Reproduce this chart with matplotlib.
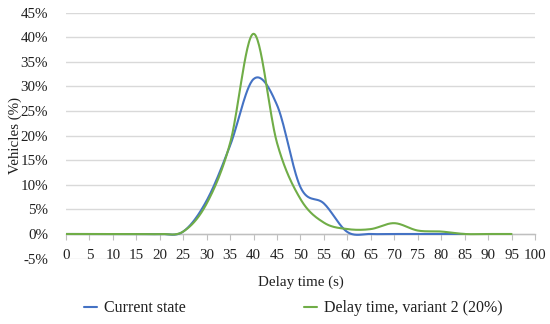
import numpy as np
import matplotlib
matplotlib.use("Agg")
import matplotlib.pyplot as plt
from matplotlib.ticker import FuncFormatter

# ---- data ----
x_current = [0, 5, 10, 15, 20, 25, 30, 35, 40, 45, 50, 55, 60, 65, 70, 75, 80, 85]
y_current = [0, 0, 0, 0, 0, 0.5, 6.8, 18.0, 31.5, 26.2, 9.5, 6.2, 0.4, 0, 0, 0, 0, 0]

x_variant = [0, 5, 10, 15, 20, 25, 30, 35, 40, 45, 50, 55, 60, 65, 70, 75, 80, 85, 90, 95]
y_variant = [0, 0, 0, 0, 0, 0.5, 6.2, 18.5, 40.7, 18.5, 7.1, 2.3, 1.0, 1.0, 2.2, 0.7, 0.5, 0, 0, 0]

series_names = ["Current state", "Delay time, variant 2 (20%)"]
colors = ["#4472C4", "#70AD47"]

x_ticks = list(range(0, 101, 5))
y_ticks = list(range(-5, 46, 5))


def smooth(xs, ys, n=30):
    """Catmull-Rom smoothing similar to Excel's smoothed lines."""
    xs = np.asarray(xs, float)
    ys = np.asarray(ys, float)
    px = np.concatenate([[xs[0]], xs, [xs[-1]]])
    py = np.concatenate([[ys[0]], ys, [ys[-1]]])
    ox, oy = [], []
    for i in range(1, len(px) - 2):
        p0 = np.array([px[i - 1], py[i - 1]])
        p1 = np.array([px[i], py[i]])
        p2 = np.array([px[i + 1], py[i + 1]])
        p3 = np.array([px[i + 2], py[i + 2]])
        c1 = p1 + (p2 - p0) / 6.0
        c2 = p2 - (p3 - p1) / 6.0
        t = np.linspace(0, 1, n, endpoint=(i == len(px) - 3))[:, None]
        pts = ((1 - t) ** 3) * p1 + 3 * ((1 - t) ** 2) * t * c1 + 3 * (1 - t) * t ** 2 * c2 + t ** 3 * p2
        ox.extend(pts[:, 0])
        oy.extend(pts[:, 1])
    return np.array(ox), np.array(oy)


plt.rcParams['font.family'] = ['Liberation Serif', 'DejaVu Serif']
plt.rcParams['axes.unicode_minus'] = False
txt = '#1f1f1f'
fs = 10.8

fig = plt.figure(figsize=(5.5, 3.24), dpi=100)
ax = fig.add_axes([0.12, 0.2019, 0.8527, 0.7591])

for xs, ys, name, c in zip([x_current, x_variant], [y_current, y_variant], series_names, colors):
    sx, sy = smooth(xs, ys)
    ax.plot(sx, sy, color=c, lw=1.5, label=name, solid_capstyle='round', zorder=3)

ax.set_xlim(0, 100)
ax.set_ylim(-5, 45)
ax.set_xticks(x_ticks)
ax.set_yticks(y_ticks)
ax.yaxis.set_major_formatter(FuncFormatter(lambda v, p: f"{int(round(v))}%"))
ax.grid(axis='y', color='#D9D9D9', lw=1.0, zorder=0)
ax.set_axisbelow(True)

for s in ['top', 'right', 'left']:
    ax.spines[s].set_visible(False)
ax.spines['bottom'].set_position(('data', 0))
ax.spines['bottom'].set_color('#BFBFBF')
ax.spines['bottom'].set_linewidth(1.0)
ax.tick_params(axis='x', direction='out', length=4, color='#BFBFBF', labelsize=fs, pad=7, labelcolor=txt)
ax.tick_params(axis='y', length=0, labelsize=fs, pad=13, labelcolor=txt)

ax.set_xlabel("Delay time (s)", fontsize=fs, color=txt)
ax.xaxis.set_label_coords(0.5, -0.07)
ax.set_ylabel("Vehicles (%)", fontsize=fs, color=txt)
ax.yaxis.set_label_coords(-0.094, 0.5)

fig.legend(loc='center', bbox_to_anchor=(0.533, 0.049), ncol=2, frameon=False,
           fontsize=11.5, handlelength=0.85, handletextpad=0.4, columnspacing=7.4,
           labelcolor=txt)

fig.savefig("out.png", dpi=100)
